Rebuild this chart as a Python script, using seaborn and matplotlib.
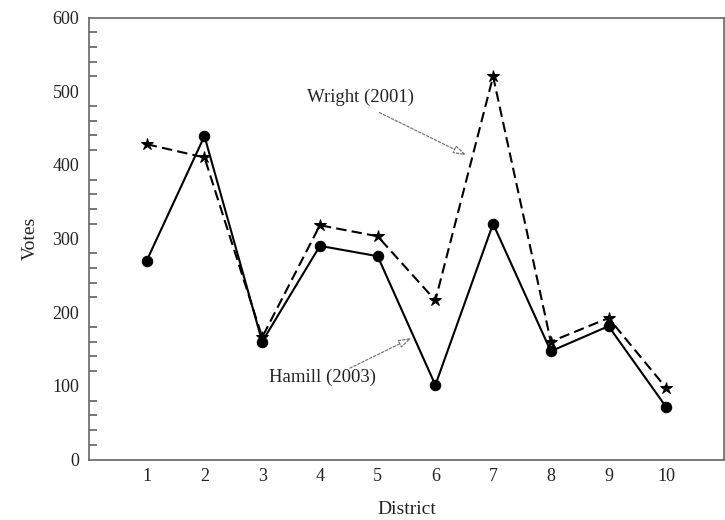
import matplotlib
matplotlib.use("Agg")
import matplotlib.pyplot as plt
from matplotlib.ticker import MultipleLocator
import seaborn as sns
import pandas as pd

districts = [1, 2, 3, 4, 5, 6, 7, 8, 9, 10]
hamill_2003 = [270, 439, 160, 290, 276, 101, 320, 147, 181, 71]
wright_2001 = [428, 410, 166, 318, 303, 216, 520, 160, 192, 97]

df = pd.DataFrame({"District": districts, "Hamill": hamill_2003, "Wright": wright_2001})

sns.set_style("white")
plt.rcParams["font.family"] = ["Liberation Serif", "DejaVu Serif"]

fig = plt.figure(figsize=(7.25, 5.2), dpi=100)
ax = fig.add_axes([89 / 725, 1 - 459.5 / 520, 635 / 725, 442 / 520])

# solid line with dots, dashed line with stars
sns.lineplot(data=df, x="District", y="Hamill", ax=ax, color="black", lw=1.5,
             marker="o", markersize=7.5, markeredgecolor="black")
sns.lineplot(data=df, x="District", y="Wright", ax=ax, color="black", lw=1.5,
             linestyle=(0, (5, 2.5)), marker="*", markersize=9, markeredgecolor="black")

ax.set_xlim(0, 11)
ax.set_ylim(0, 600)
ax.set_xticks(districts)
ax.yaxis.set_major_locator(MultipleLocator(100))
ax.yaxis.set_minor_locator(MultipleLocator(20))

for s in ax.spines.values():
    s.set_color("#666666")
    s.set_linewidth(1.2)
ax.tick_params(axis="both", which="both", direction="in", colors="#555555", labelcolor="#222222")
ax.tick_params(axis="y", which="major", length=11, width=1.1, pad=7, labelsize=13)
ax.tick_params(axis="y", which="minor", length=5.5, width=1.1, left=True)
ax.tick_params(axis="x", which="major", length=11, width=1.1, pad=6, labelsize=13)

ax.set_xlabel("District", fontsize=14, color="#222222", labelpad=12)
ax.set_ylabel("Votes", fontsize=14, color="#222222", labelpad=10)

arrow = dict(arrowstyle="-|>,head_length=0.8,head_width=0.25", linestyle=(0, (2, 1.5)),
             color="#777777", lw=0.9, fc="white", shrinkA=0, shrinkB=0)
ax.annotate("", xy=(6.54, 413), xytext=(5.03, 471), arrowprops=arrow)
ax.text(4.7, 492, "Wright (2001)", ha="center", va="center", fontsize=13.5, color="#222222")
ax.annotate("", xy=(5.59, 165), xytext=(4.52, 124), arrowprops=arrow)
ax.text(4.05, 111, "Hamill (2003)", ha="center", va="center", fontsize=13.5, color="#222222")

fig.savefig("out.png", dpi=100)
